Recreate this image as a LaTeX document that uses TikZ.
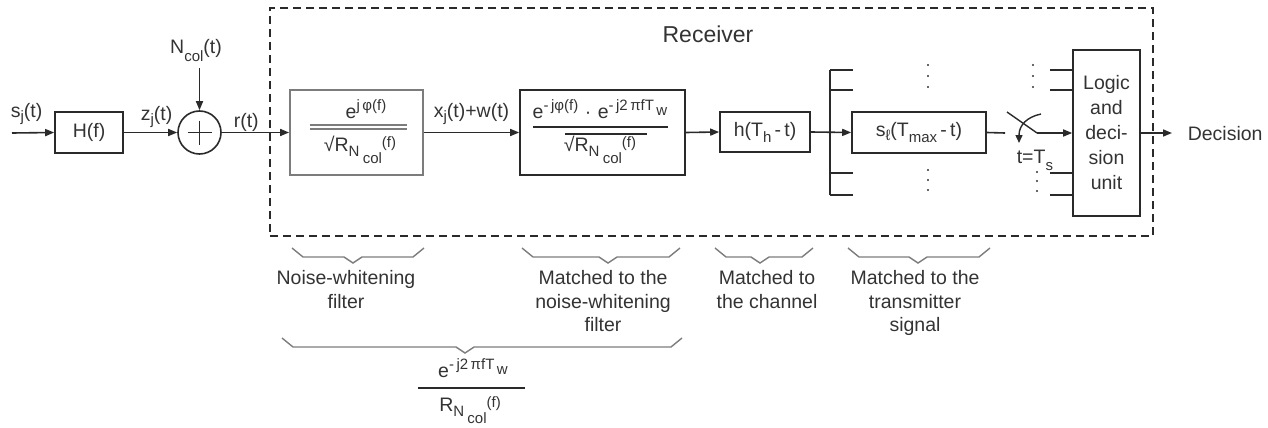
\documentclass[tikz,border=0pt]{standalone}
\usepackage{fontspec}
\setmainfont{Liberation Sans}
\usetikzlibrary{arrows.meta}
\definecolor{txt}{HTML}{333333}
\definecolor{ln}{HTML}{2A2A2A}
\definecolor{gr}{HTML}{7C7C7C}
\newcommand\fs{\fontsize{19.5}{23}\selectfont}
\newcommand\smf{\fontsize{15}{15}\selectfont}
\newcommand\lo[2][4]{\raisebox{-#1pt}{\smf #2}}
\newcommand\hi[2][7]{\raisebox{#1pt}{\smf #2}}
\newcommand\abrace[4]{%
  \draw[brc] (#1,#4) -- (#1+11,#4+9) -- (#3-9,#4+9) -- (#3,#4+15) -- (#3+9,#4+9) -- (#2-11,#4+9) -- (#2,#4);}
\begin{document}
\begin{tikzpicture}[x=1pt,y=-1pt,line width=1.6pt,
  every node/.style={font=\fs,text=txt,inner sep=0pt},
  blk/.style={draw=ln,rectangle,line width=1.6pt},
  gblk/.style={draw=gr,rectangle,line width=1.8pt},
  arr/.style={draw=ln,-{Triangle[length=9pt,width=7pt]}},
  wire/.style={draw=ln},
  bar/.style={draw=ln,line width=1.4pt},
  brc/.style={draw=gr,line width=1.4pt},
  lbl/.style={align=center,font=\fontsize{19.5}{23.5}\selectfont}]
\useasboundingbox (0,0) rectangle (1268,428);

% receiver frame
\node[draw=ln,dash pattern=on 8pt off 5pt,line width=1.5pt,minimum width=883,minimum height=228] (rx) at (711.5,122) {};
\node[font=\fontsize{23}{23}\selectfont,anchor=base] (rxl) at (708,43) {Receiver};

% transmitter side
\coordinate (in) at (12,133);
\node[blk,minimum width=68,minimum height=41] (H) at (89,132.5) {H(f)};
\node[blk,circle,minimum size=43] (sum) at (199.5,132.5) {};
\draw[ln,line width=1.4pt] (sum.center) ++(-12,0) -- ++(24,0);
\draw[ln,line width=1.4pt] (sum.center) ++(0,-12) -- ++(0,24);
\node[anchor=base] (ncol) at (196,53) {N\lo[9]{col}(t)};
\coordinate (nin) at (199.5,68);
\node[anchor=base west] (sj) at (10,117) {s\lo{j}(t)};
\node[anchor=base west] (zj) at (140,120) {z\lo{j}(t)};
\node[anchor=base west] (rt) at (233,127) {r(t)};

% receiver blocks
\node[gblk,minimum width=133,minimum height=85] (b1) at (356.5,132.5) {};
\node[blk,minimum width=165,minimum height=85] (b2) at (602.5,132.5) {};
\node[blk,minimum width=90,minimum height=40] (hb) at (765,132) {h(T\lo[6]{h}\,-\,t)};
\node[blk,minimum width=134,minimum height=41] (sb) at (919,132.5) {s\lo{ℓ}(T\lo[6]{max}\,-\,t)};
\node[blk,minimum width=67,minimum height=166] (lg) at (1106.5,133) {};
\node[lbl,font=\fontsize{19.5}{25}\selectfont] (lgt) at (1106.5,133) {Logic\\and\\deci-\\sion\\unit};
\node[anchor=base west] (xw) at (433,117) {x\lo{j}(t)+w(t)};
\node[anchor=base west] (dec) at (1187,140) {Decision};
\node[anchor=base west] (ts) at (1016,163) {t=T\lo[7]{s}};

% formula box 1
\node[anchor=base] (f1n) at (366,118) {e\hi[8]{j\,φ(f)}};
\coordinate (f1a) at (310,125); \coordinate (f1b) at (407,125);
\coordinate (f1c) at (310,129); \coordinate (f1d) at (407,129);
\draw[bar,draw=gr] (f1a) -- (f1b);
\draw[bar,draw=gr] (f1c) -- (f1d);
\node[anchor=base] (f1dn) at (360,151) {√R\lo[5]{N}\,\lo[12]{col}\hi[4]{(f)}};

% formula box 2
\node[anchor=base] (f2n) at (600,118) {e\hi[8]{-\,jφ(f)}\,\,·\,\,e\hi[8]{-\,j2\,πfT}\hi[3]{\,w}};
\coordinate (f2a) at (533,127); \coordinate (f2b) at (668,127);
\draw[bar] (f2a) -- (f2b);
\node[anchor=base] (f2d) at (600,151) {√R\lo[5]{N}\,\lo[12]{col}\hi[4]{(f)}};
\coordinate (f2c) at (565,134); \coordinate (f2e) at (647,134);
\draw[ln,line width=1.1pt] (f2c) -- (f2e);

% main signal path
\draw[arr] (in) -- (H.west);
\draw[arr] (H.east) -- (sum.west);
\draw[arr] (nin) -- (sum.north);
\draw[arr] (sum.east) -- (b1.west);
\draw[arr] (b1.east) -- (b2.west);
\draw[arr] (b2.east) -- (hb.west);
\draw[arr] (hb.east) -- (sb.west);

% branch
\coordinate (brt) at (830,70); \coordinate (brb) at (830,195);
\draw[wire] (brt) -- (brb);
\foreach \yy/\nm in {70/a,90/b,173/c,195/d}{
  \coordinate (bs\nm) at (830,\yy); \coordinate (be\nm) at (853,\yy);
  \draw[wire] (bs\nm) -- (be\nm);
  \coordinate (ls\nm) at (1050,\yy);
  \draw[wire] (ls\nm) -- (lg.west |- ls\nm);
}
% dots
\foreach \xx/\yy in {928/65,928/76,928/87,928/170,928/180,928/190,1033/65,1033/76,1033/87,1037/172,1037/181,1037/191}{
  \fill[txt] (\xx,\yy) circle (1.1pt);
}

% switch
\coordinate (sw0) at (1005,133);
\draw[wire] (sb.east) -- (sw0);
\coordinate (bl1) at (1007,112); \coordinate (bl2) at (1037,133);
\draw[wire,line width=1.4pt] (bl1) -- (bl2);
\draw[arr] (bl2) -- (lg.west |- bl2);
\coordinate (ac1) at (1041,114); \coordinate (ac2) at (1019,143);
\draw[ln,line width=1.4pt,-{Triangle[length=8pt,width=7pt]}] (ac1) .. controls (1027,117) and (1019,125) .. (ac2);

% output
\coordinate (out) at (1172,133);
\draw[arr] (lg.east) -- (out);

% braces
\abrace{292}{424}{353}{248}
\abrace{522}{680}{608}{248}
\abrace{715}{813}{760}{248}
\abrace{848}{990}{918}{248}
\abrace{282}{682}{465}{338}

\node[lbl,anchor=north] (t1) at (346,270) {Noise-whitening\\filter};
\node[lbl,anchor=north] (t2) at (603,270) {Matched to the\\noise-whitening\\filter};
\node[lbl,anchor=north] (t3) at (767,270) {Matched to\\the channel};
\node[lbl,anchor=north] (t4) at (915,270) {Matched to the\\transmitter\\signal};

% bottom formula
\node[anchor=base] (f3n) at (473,377) {e\hi[8]{-\,j2\,πfT}\hi[3]{\,w}};
\coordinate (f3a) at (418,388); \coordinate (f3b) at (525,388);
\draw[bar] (f3a) -- (f3b);
\node[anchor=base] (f3d) at (470,411) {R\lo[5]{N}\,\lo[12]{col}\hi[4]{(f)}};
\end{tikzpicture}
\end{document}
